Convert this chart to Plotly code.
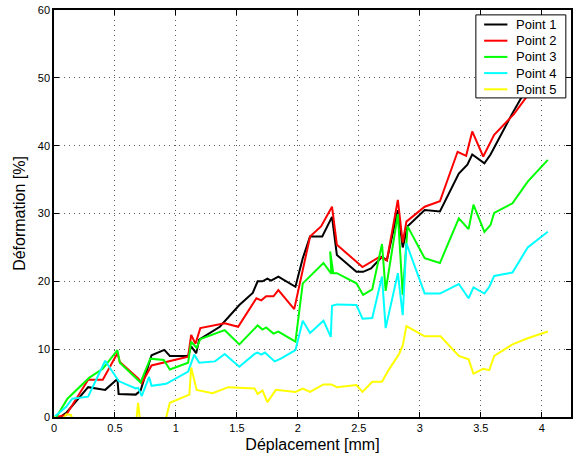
import plotly.graph_objects as go

# Point 1 (black)
p1_x = [0.05, 0.10, 0.28, 0.42, 0.52, 0.53, 0.67, 0.71, 0.80, 0.905, 0.95, 1.10, 1.125, 1.166, 1.19,
        1.36, 1.52, 1.63, 1.67, 1.71, 1.75, 1.78, 1.84, 1.98, 2.04, 2.10, 2.20, 2.28, 2.32, 2.48,
        2.535, 2.60, 2.69, 2.73, 2.82, 2.86, 2.90, 3.04, 3.165, 3.32, 3.39, 3.43, 3.53, 3.58, 3.76,
        3.84, 3.89, 4.05]
p1_y = [0, 0.6, 4.4, 4.0, 5.6, 3.4, 3.3, 3.9, 9.1, 9.9, 9.0, 9.0, 10.4, 9.4, 11.4,
        13.3, 16.5, 18.3, 20.0, 20.0, 20.4, 20.1, 20.7, 19.2, 23.4, 26.6, 26.6, 29.5, 23.9, 21.4,
        21.4, 21.9, 23.6, 23.1, 30.5, 25.0, 28.1, 30.5, 30.3, 35.9, 37.2, 38.7, 37.4, 38.7, 44.8,
        47.3, 48.5, 51.0]

# Point 2 (red)
p2_x = [0.02, 0.10, 0.28, 0.40, 0.52, 0.54, 0.69, 0.72, 0.80, 0.92, 1.10, 1.125, 1.16, 1.20, 1.40,
        1.51, 1.66, 1.70, 1.74, 1.80, 1.84, 1.97, 2.10, 2.19, 2.28, 2.32, 2.53, 2.67, 2.73, 2.82,
        2.86, 2.89, 3.04, 3.165, 3.31, 3.38, 3.43, 3.52, 3.61, 3.77, 3.88, 4.05]
p2_y = [0, 0.3, 5.5, 5.5, 9.4, 8.1, 5.7, 5.0, 7.6, 8.1, 8.9, 12.1, 10.8, 13.1, 13.8,
        13.3, 17.5, 17.2, 17.8, 17.8, 18.7, 15.9, 26.6, 28.1, 31.0, 25.4, 22.1, 23.6, 23.1, 32.0,
        25.7, 28.8, 31.0, 31.8, 39.1, 38.5, 42.1, 38.4, 41.6, 44.6, 47.3, 50.5]

# Point 3 (green)
p3_x = [0.02, 0.11, 0.29, 0.40, 0.52, 0.54, 0.71, 0.79, 0.90, 0.95, 1.10, 1.125, 1.17, 1.20, 1.40,
        1.52, 1.67, 1.71, 1.74, 1.80, 1.84, 1.98, 2.04, 2.21, 2.275, 2.265, 2.29, 2.32, 2.48, 2.535,
        2.61, 2.69, 2.72, 2.82, 2.86, 2.90, 3.04, 3.165, 3.32, 3.40, 3.44, 3.53, 3.58, 3.61, 3.76,
        3.885, 4.05]
p3_y = [0, 2.7, 5.8, 7.1, 9.85, 8.0, 5.1, 8.6, 8.4, 7.0, 8.0, 11.1, 10.2, 11.5, 12.8,
        10.7, 13.5, 12.9, 13.2, 12.3, 12.6, 11.1, 19.7, 22.7, 21.1, 24.4, 21.2, 21.2, 19.7, 18.0,
        18.8, 25.5, 18.6, 29.9, 18.0, 28.1, 23.4, 22.7, 29.3, 27.7, 31.3, 27.3, 28.3, 30.1, 31.5,
        34.7, 37.9]

# Point 4 (cyan)
p4_x = [0.0, 0.10, 0.15, 0.28, 0.42, 0.53, 0.67, 0.69, 0.72, 0.78, 0.80, 0.92, 1.10, 1.15, 1.19,
        1.32, 1.40, 1.52, 1.645, 1.67, 1.70, 1.73, 1.81, 1.86, 1.98, 2.04, 2.10, 2.21, 2.27, 2.28,
        2.32, 2.48, 2.53, 2.61, 2.69, 2.72, 2.82, 2.86, 2.89, 3.04, 3.165, 3.32, 3.40, 3.44, 3.53,
        3.57, 3.61, 3.76, 3.885, 4.05]
p4_y = [0, 1.5, 2.7, 3.0, 8.3, 5.3, 4.2, 4.3, 3.1, 5.9, 4.6, 4.9, 6.7, 9.2, 8.0,
        8.2, 9.3, 7.4, 9.3, 9.5, 9.2, 9.5, 8.2, 8.6, 9.85, 14.2, 12.4, 14.2, 11.8, 16.4,
        16.6, 16.5, 14.5, 14.6, 20.7, 13.1, 21.2, 15.0, 25.6, 18.2, 18.2, 19.6, 17.5, 19.1, 18.2,
        19.2, 20.8, 21.3, 25.0, 27.3]

# Point 5 (yellow) - dips below zero at the start
p5_x = [0.0, 0.05, 0.10, 0.14, 0.20, 0.66, 0.69, 0.72, 0.88, 0.95, 1.11, 1.125, 1.17, 1.30, 1.43,
        1.645, 1.67, 1.71, 1.75, 1.82, 1.98, 2.04, 2.10, 2.21, 2.275, 2.32, 2.48, 2.53, 2.61, 2.69,
        2.74, 2.83, 2.86, 2.89, 3.04, 3.17, 3.32, 3.40, 3.44, 3.52, 3.57, 3.61, 3.76, 3.885, 4.05]
p5_y = [0.1, -1.0, 0.4, 0.3, -3.0, -3.0, 2.1, -3.0, -3.0, 2.1, 3.3, 7.3, 4.0, 3.5, 4.4,
        4.2, 3.4, 3.9, 2.2, 4.0, 3.7, 4.2, 3.7, 4.8, 4.8, 4.4, 4.7, 3.7, 5.2, 5.2,
        6.8, 9.3, 10.5, 13.4, 11.9, 11.9, 9.0, 8.5, 6.4, 7.1, 6.9, 9.0, 10.7, 11.6, 12.6]

series_names = ["Point 1", "Point 2", "Point 3", "Point 4", "Point 5"]
series_colors = ["rgb(0,0,0)", "rgb(255,0,0)", "rgb(0,255,0)", "rgb(0,255,255)", "rgb(255,255,0)"]
x_ticks = [0, 0.5, 1, 1.5, 2, 2.5, 3, 3.5, 4]
y_ticks = [0, 10, 20, 30, 40, 50, 60]

xs = [p1_x, p2_x, p3_x, p4_x, p5_x]
ys = [p1_y, p2_y, p3_y, p4_y, p5_y]

FONT = "Liberation Sans, Arial"

fig = go.Figure()
for x, y, name, color in zip(xs, ys, series_names, series_colors):
    fig.add_trace(
        go.Scatter(x=x, y=y, mode="lines", name=name, line=dict(color=color, width=2))
    )

axis_style = dict(
    showline=True,
    mirror="allticks",
    linecolor="black",
    linewidth=1.5,
    ticks="inside",
    ticklen=5,
    tickcolor="black",
    showgrid=True,
    gridcolor="rgb(90,90,90)",
    griddash="1px,4px",
    gridwidth=1,
    zeroline=False,
    automargin=False,
    tickfont=dict(family=FONT, size=11, color="black"),
)

fig.update_xaxes(
    range=[0, 4.24],
    tickvals=x_ticks,
    title=dict(text="Déplacement [mm]", font=dict(family=FONT, size=16, color="black"), standoff=6),
    **axis_style,
)
fig.update_yaxes(
    range=[0, 60],
    tickvals=y_ticks,
    title=dict(text="Déformation [%]", font=dict(family=FONT, size=16, color="black"), standoff=8),
    **axis_style,
)

# MATLAB-style legend box (compact rows), drawn with shapes + annotations
shapes = [
    dict(type="rect", xref="paper", yref="paper", x0=0.816, x1=0.990, y0=0.784, y1=0.988,
         fillcolor="white", line=dict(color="black", width=1), layer="above")
]
annotations = []
for i, (name, color) in enumerate(zip(series_names, series_colors)):
    yc = (417 - (24.5 + 16.2 * i)) / 407
    shapes.append(
        dict(type="line", xref="paper", yref="paper", x0=0.832, x1=0.877, y0=yc, y1=yc,
             line=dict(color=color, width=2), layer="above")
    )
    annotations.append(
        dict(xref="paper", yref="paper", x=0.890, y=yc, xanchor="left", yanchor="middle",
             text=name, showarrow=False, font=dict(family=FONT, size=13, color="black"))
    )

fig.update_layout(
    width=576,
    height=458,
    autosize=False,
    margin=dict(l=54, r=5, t=10, b=41),
    plot_bgcolor="white",
    paper_bgcolor="white",
    showlegend=False,
    hovermode=False,
    shapes=shapes,
    annotations=annotations,
)

fig.write_html(
    "out.html",
    config={"displayModeBar": False},
    post_script="document.body.style.margin='0px';",
)
